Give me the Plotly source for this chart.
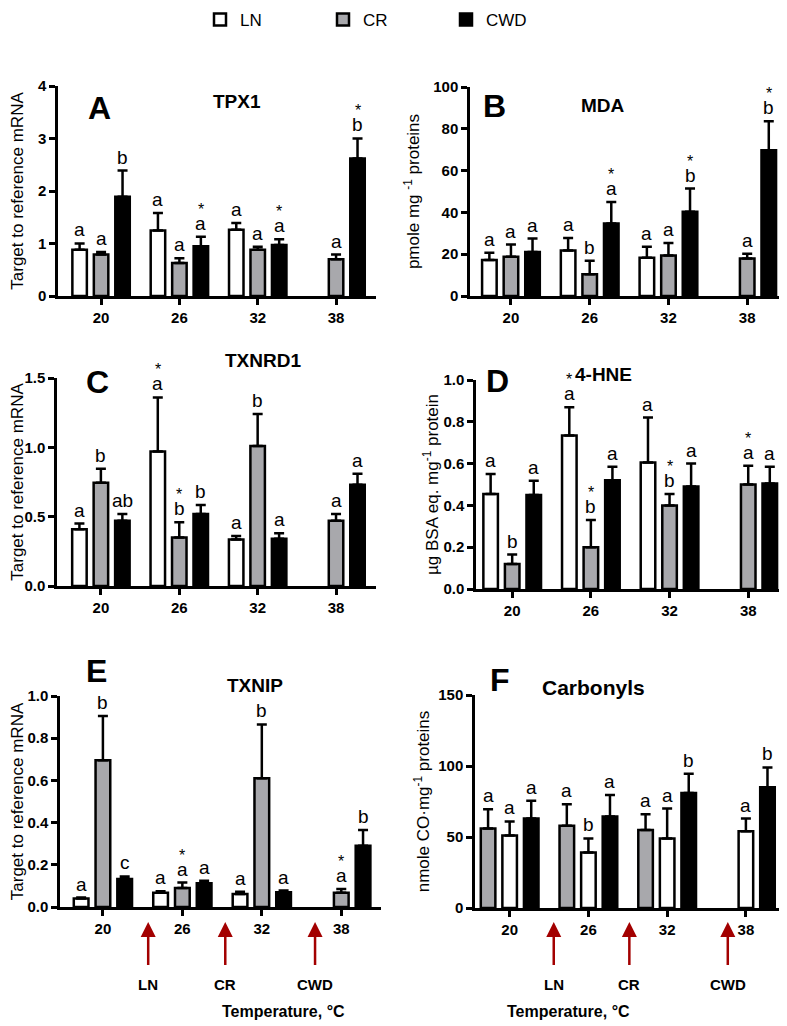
import plotly.graph_objects as go

W, H = 787, 1026

temps = ["20", "26", "32", "38"]
series_names = ["LN", "CR", "CWD"]

# ---- Panel A: TPX1 ----
tpx1_ln = [0.88, 1.25, 1.26, None]
tpx1_ln_err = [0.12, 0.33, 0.13, None]
tpx1_cr = [0.79, 0.63, 0.88, 0.70]
tpx1_cr_err = [0.05, 0.09, 0.06, 0.09]
tpx1_cwd = [1.89, 0.95, 0.97, 2.62]
tpx1_cwd_err = [0.50, 0.18, 0.11, 0.38]
tpx1_ln_lab = ["a", "a", "a", ""]
tpx1_cr_lab = ["a", "a", "a", "a"]
tpx1_cwd_lab = ["b", "*a", "*a", "*b"]

# ---- Panel B: MDA ----
mda_ln = [17.2, 21.8, 18.3, None]
mda_ln_err = [3.5, 6.0, 5.3, None]
mda_cr = [18.8, 10.4, 19.4, 18.0]
mda_cr_err = [5.8, 6.5, 6.0, 2.2]
mda_cwd = [21.0, 34.7, 40.3, 69.7]
mda_cwd_err = [6.5, 10.3, 11.1, 13.9]
mda_ln_lab = ["a", "a", "a", ""]
mda_cr_lab = ["a", "b", "a", "a"]
mda_cwd_lab = ["a", "*a", "*b", "*b"]

# ---- Panel C: TXNRD1 ----
txnrd1_ln = [0.41, 0.97, 0.335, None]
txnrd1_ln_err = [0.04, 0.39, 0.025, None]
txnrd1_cr = [0.745, 0.35, 1.01, 0.47]
txnrd1_cr_err = [0.10, 0.11, 0.23, 0.05]
txnrd1_cwd = [0.47, 0.52, 0.34, 0.73]
txnrd1_cwd_err = [0.05, 0.065, 0.04, 0.08]
txnrd1_ln_lab = ["a", "*a", "a", ""]
txnrd1_cr_lab = ["b", "*b", "b", "a"]
txnrd1_cwd_lab = ["ab", "b", "a", "a"]

# ---- Panel D: 4-HNE ----
hne_ln = [0.455, 0.735, 0.605, None]
hne_ln_err = [0.095, 0.135, 0.215, None]
hne_cr = [0.12, 0.20, 0.40, 0.50]
hne_cr_err = [0.045, 0.13, 0.055, 0.09]
hne_cwd = [0.45, 0.52, 0.49, 0.505]
hne_cwd_err = [0.068, 0.065, 0.11, 0.08]
hne_ln_lab = ["a", "*a", "a", ""]
hne_cr_lab = ["b", "*b", "*b", "*a"]
hne_cwd_lab = ["a", "a", "a", "a"]

# ---- Panel E: TXNIP ----
txnip_ln = [0.04, 0.067, 0.062, None]
txnip_ln_err = [0.005, 0.008, 0.010, None]
txnip_cr = [0.695, 0.09, 0.61, 0.067]
txnip_cr_err = [0.21, 0.026, 0.255, 0.018]
txnip_cwd = [0.133, 0.113, 0.07, 0.29]
txnip_cwd_err = [0.012, 0.012, 0.008, 0.075]
txnip_ln_lab = ["a", "a", "a", ""]
txnip_cr_lab = ["b", "*a", "b", "*a"]
txnip_cwd_lab = ["c", "a", "a", "b"]

# ---- Panel F: Carbonyls ----
carb_cr = [56.0, 58.0, 55.0, None]
carb_cr_err = [13.5, 15.0, 11.0, None]
carb_ln = [51.0, 39.0, 49.0, 54.0]
carb_ln_err = [10.0, 10.0, 21.0, 9.0]
carb_cwd = [63.0, 64.5, 81.0, 85.0]
carb_cwd_err = [12.5, 15.0, 13.5, 14.0]
carb_cr_lab = ["a", "a", "a", ""]
carb_ln_lab = ["a", "b", "a", "a"]
carb_cwd_lab = ["a", "a", "b", "b"]

arrow_labels = ["LN", "CR", "CWD"]

# ---------------- styling ----------------
FONT = "Liberation Sans, Arial, sans-serif"
NARROW = "Liberation Sans Narrow, Arial Narrow, Liberation Sans, Arial, sans-serif"
fills = {"LN": "white", "CR": "#a8a8ac", "CWD": "black"}
STEP = 0.274
BARW = 0.185
LW = 2.5

fig = go.Figure()
annotations = []


def px2paper_x(px):
    return px / W


def px2paper_y(py):
    return 1 - py / H


panels = [
    dict(n=1, letter="A", title="TPX1", ytitle="Target to reference mRNA",
         xl=50, xr=368, yb=288, yt=78, xr_=[-0.55, 3.51], yr=[0, 4], dtick=1, fmt="d", standoff=11,
         letter_pos=(78, 80), title_pos=(203, 81), title_size=19,
         series=[("LN", tpx1_ln, tpx1_ln_err, tpx1_ln_lab, -1),
                 ("CR", tpx1_cr, tpx1_cr_err, tpx1_cr_lab, 0),
                 ("CWD", tpx1_cwd, tpx1_cwd_err, tpx1_cwd_lab, 1)]),
    dict(n=2, letter="B", title="MDA", ytitle="pmole mg <sup>-1</sup> proteins",
         xl=462, xr=777, yb=288, yt=79, xr_=[-0.52, 3.48], yr=[0, 100], dtick=20, fmt="d", standoff=10,
         letter_pos=(487, 78), title_pos=(619, 85), title_size=19,
         series=[("LN", mda_ln, mda_ln_err, mda_ln_lab, -1),
                 ("CR", mda_cr, mda_cr_err, mda_cr_lab, 0),
                 ("CWD", mda_cwd, mda_cwd_err, mda_cwd_lab, 1)]),
    dict(n=3, letter="C", title="TXNRD1", ytitle="Target to reference mRNA",
         xl=49, xr=368, yb=578, yt=370, xr_=[-0.56, 3.51], yr=[0, 1.5], dtick=0.5, fmt=".1f", standoff=2,
         letter_pos=(76, 374), title_pos=(215, 352), title_size=19,
         series=[("LN", txnrd1_ln, txnrd1_ln_err, txnrd1_ln_lab, -1),
                 ("CR", txnrd1_cr, txnrd1_cr_err, txnrd1_cr_lab, 0),
                 ("CWD", txnrd1_cwd, txnrd1_cwd_err, txnrd1_cwd_lab, 1)]),
    dict(n=4, letter="D", title="4-HNE", ytitle="µg BSA eq. mg<sup>-1</sup> protein",
         xl=468, xr=778, yb=581, yt=372, xr_=[-0.46, 3.48], yr=[0, 1.0], dtick=0.2, fmt=".1f", standoff=1,
         letter_pos=(490, 373), title_pos=(626, 367), title_size=19,
         series=[("LN", hne_ln, hne_ln_err, hne_ln_lab, -1),
                 ("CR", hne_cr, hne_cr_err, hne_cr_lab, 0),
                 ("CWD", hne_cwd, hne_cwd_err, hne_cwd_lab, 1)]),
    dict(n=5, letter="E", title="TXNIP", ytitle="Target to reference mRNA",
         xl=52, xr=373, yb=899, yt=688, xr_=[-0.54, 3.5], yr=[0, 1.0], dtick=0.2, fmt=".1f", standoff=5,
         letter_pos=(76, 663), title_pos=(217, 677), title_size=19,
         series=[("LN", txnip_ln, txnip_ln_err, txnip_ln_lab, -1),
                 ("CR", txnip_cr, txnip_cr_err, txnip_cr_lab, 0),
                 ("CWD", txnip_cwd, txnip_cwd_err, txnip_cwd_lab, 1)],
         arrows_x=[0.57, 1.54, 2.67], temp_x=212),
    dict(n=6, letter="F", title="Carbonyls", ytitle="nmole CO·mg<sup>-1</sup> proteins",
         xl=467, xr=782, yb=900, yt=687, xr_=[-0.44, 3.56], yr=[0, 150], dtick=50, fmt="d", standoff=5,
         letter_pos=(492, 672), title_pos=(639, 693), title_size=21,
         series=[("CR", carb_cr, carb_cr_err, carb_cr_lab, -1),
                 ("LN", carb_ln, carb_ln_err, carb_ln_lab, 0),
                 ("CWD", carb_cwd, carb_cwd_err, carb_cwd_lab, 1)],
         arrows_x=[0.56, 1.52, 2.77], temp_x=624),
]

legend_done = set()
for p in panels:
    n = p["n"]
    xa = "x" if n == 1 else f"x{n}"
    ya = "y" if n == 1 else f"y{n}"
    for name, vals, errs, labs, pos in p["series"]:
        xs = [i + pos * STEP for i in range(len(temps))]
        show = name not in legend_done
        legend_done.add(name)
        fig.add_trace(go.Bar(
            x=xs, y=vals, width=BARW, name=name, legendgroup=name, showlegend=show,
            legendrank={"LN": 1, "CR": 2, "CWD": 3}[name],
            xaxis=xa, yaxis=ya,
            marker=dict(color=fills[name], line=dict(color="black", width=LW)),
            error_y=dict(type="data", symmetric=False,
                         array=[e if e is not None else 0 for e in errs],
                         arrayminus=[0] * len(errs), color="black", thickness=LW, width=5),
        ))
        for x, v, e, lab in zip(xs, vals, errs, labs):
            if not lab or v is None:
                continue
            top = v + (e or 0)
            letter = lab.lstrip("*")
            annotations.append(dict(x=x, y=top, xref=xa, yref=ya, text=letter, showarrow=False,
                                    yanchor="bottom", yshift=1,
                                    font=dict(family=FONT, size=19, color="black")))
            if lab.startswith("*"):
                annotations.append(dict(x=x, y=top, xref=xa, yref=ya, text="*", showarrow=False,
                                        yanchor="bottom", yshift=17,
                                        font=dict(family=FONT, size=16, color="black")))

    axis_common = dict(showline=True, linecolor="black", linewidth=LW, ticks="outside",
                       ticklen=6, tickwidth=LW, tickcolor="black", showgrid=False, zeroline=False,
                       tickfont=dict(family=FONT, size=15, color="black", weight="bold"))
    fig.update_layout(**{
        ("xaxis" if n == 1 else f"xaxis{n}"): dict(
            domain=[px2paper_x(p["xl"]), px2paper_x(p["xr"])], range=p["xr_"],
            tickmode="array", tickvals=list(range(len(temps))), ticktext=temps,
            anchor=ya, **axis_common),
        ("yaxis" if n == 1 else f"yaxis{n}"): dict(
            domain=[px2paper_y(p["yb"]), px2paper_y(p["yt"])], range=p["yr"],
            dtick=p["dtick"], tick0=0, tickformat=p["fmt"], anchor=xa,
            title=dict(text=p["ytitle"], standoff=p["standoff"],
                       font=dict(family=FONT, size=17, color="black")),
            **axis_common),
    })
    lx, ly = p["letter_pos"]
    annotations.append(dict(x=px2paper_x(lx), y=px2paper_y(ly), xref="paper", yref="paper",
                            text=f"<b>{p['letter']}</b>", showarrow=False,
                            font=dict(family=FONT, size=32, color="black")))
    tx, ty = p["title_pos"]
    annotations.append(dict(x=px2paper_x(tx), y=px2paper_y(ty), xref="paper", yref="paper",
                            text=f"<b>{p['title']}</b>", showarrow=False,
                            font=dict(family=FONT, size=p["title_size"], color="black")))
    if "arrows_x" in p:
        for ax_x, lab in zip(p["arrows_x"], arrow_labels):
            annotations.append(dict(x=ax_x, y=px2paper_y(914), xref=xa, yref="paper",
                                    text=f"<b>{lab}</b>", showarrow=True, axref="pixel", ayref="pixel",
                                    ax=0, ay=62, arrowcolor="#a30000", arrowwidth=2.5,
                                    arrowhead=2, arrowsize=1.2, startstandoff=9,
                                    font=dict(family=FONT, size=15, color="black")))
        annotations.append(dict(x=px2paper_x(p["temp_x"]), y=px2paper_y(1014), xref="paper", yref="paper",
                                text="<b>Temperature, °C</b>", showarrow=False,
                                font=dict(family=FONT, size=16, color="black")))

fig.update_layout(
    width=W, height=H, margin=dict(l=0, r=0, t=0, b=0, autoexpand=False),
    paper_bgcolor="white", plot_bgcolor="white",
    barmode="overlay",
    annotations=annotations,
    showlegend=True,
    legend=dict(orientation="h", x=px2paper_x(192), xanchor="left", y=px2paper_y(-6), yanchor="top",
                entrywidth=78, entrywidthmode="pixels", traceorder="normal",
                font=dict(family=NARROW, size=17, color="black"), bgcolor="rgba(0,0,0,0)"),
)

fig.write_html("out.html")
